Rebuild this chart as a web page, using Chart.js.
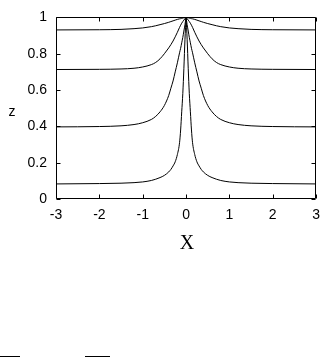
<!DOCTYPE html>
<html>
<head>
<meta charset="utf-8">
<script src="https://cdn.jsdelivr.net/npm/chart.js@4"></script>
<style>
html,body{margin:0;padding:0;background:#fff;}
#wrap{width:328px;height:358px;position:relative;}
canvas{display:block;}
</style>
</head>
<body>
<div id="wrap"><canvas id="c" width="328" height="358"></canvas></div>
<script>
// x positions (shared by all curves)
const xValues = [-3, -2, -1.5, -1.2, -1, -0.8, -0.7, -0.6, -0.5, -0.4, -0.35, -0.3, -0.25, -0.2, -0.15, -0.125, -0.1, -0.075, -0.05, -0.025, 0,
                 0.025, 0.05, 0.075, 0.1, 0.125, 0.15, 0.2, 0.25, 0.3, 0.35, 0.4, 0.5, 0.6, 0.7, 0.8, 1, 1.2, 1.5, 2, 3];
// z values, one array per curve
const curveTop = [0.931, 0.932, 0.934, 0.938, 0.942, 0.949, 0.954, 0.960, 0.966, 0.973, 0.977, 0.981, 0.985, 0.989, 0.992, 0.993, 0.995, 0.996, 0.998, 0.999, 1.0,
                  0.999, 0.998, 0.996, 0.995, 0.993, 0.992, 0.989, 0.985, 0.981, 0.977, 0.973, 0.966, 0.960, 0.954, 0.949, 0.942, 0.938, 0.934, 0.932, 0.931];
const curveSecond = [0.713, 0.714, 0.716, 0.720, 0.727, 0.740, 0.752, 0.772, 0.800, 0.832, 0.850, 0.870, 0.893, 0.918, 0.945, 0.957, 0.968, 0.977, 0.985, 0.993, 1.0,
                     0.993, 0.985, 0.977, 0.968, 0.957, 0.945, 0.918, 0.893, 0.870, 0.850, 0.832, 0.800, 0.772, 0.752, 0.740, 0.727, 0.720, 0.716, 0.714, 0.713];
const curveThird = [0.397, 0.399, 0.403, 0.410, 0.420, 0.438, 0.455, 0.480, 0.515, 0.570, 0.610, 0.650, 0.700, 0.750, 0.805, 0.830, 0.860, 0.890, 0.925, 0.960, 1.0,
                    0.960, 0.925, 0.890, 0.860, 0.830, 0.805, 0.750, 0.700, 0.650, 0.610, 0.570, 0.515, 0.480, 0.455, 0.438, 0.420, 0.410, 0.403, 0.399, 0.397];
const curveBottom = [0.083, 0.085, 0.087, 0.090, 0.094, 0.102, 0.109, 0.118, 0.130, 0.149, 0.163, 0.182, 0.205, 0.245, 0.310, 0.380, 0.480, 0.580, 0.720, 0.880, 1.0,
                     0.880, 0.720, 0.580, 0.480, 0.380, 0.310, 0.245, 0.205, 0.182, 0.163, 0.149, 0.130, 0.118, 0.109, 0.102, 0.094, 0.090, 0.087, 0.085, 0.083];
const xTicks = [-3, -2, -1, 0, 1, 2, 3];
const yTicks = [0, 0.2, 0.4, 0.6, 0.8, 1];
const xTitle = 'X';
const yTitle = 'z';

const curves = [curveTop, curveSecond, curveThird, curveBottom];
const mid = xValues.indexOf(0);
const datasets = [];
curves.forEach(function (ys) {
  // split at the cusp so each half is smoothed on its own
  [[0, mid + 1], [mid, xValues.length]].forEach(function (r) {
    const pts = [];
    for (let i = r[0]; i < r[1]; i++) pts.push({x: xValues[i], y: ys[i]});
    datasets.push({
      data: pts,
      borderColor: '#000',
      borderWidth: 1,
      pointRadius: 0,
      fill: false,
      cubicInterpolationMode: 'monotone'
    });
  });
});

const FONT = "'Liberation Sans', Arial, Helvetica, sans-serif";
const TICK_SIZE = 14;
Chart.defaults.font.family = FONT;
Chart.defaults.font.size = TICK_SIZE;
Chart.defaults.color = '#000';

const framePlugin = {
  id: 'frame',
  afterDraw(chart) {
    const ctx = chart.ctx;
    const a = chart.chartArea;
    const xs = chart.scales.x, ys = chart.scales.y;
    ctx.save();
    ctx.strokeStyle = '#000';
    ctx.lineWidth = 1;
    const L = Math.round(a.left) + 0.5, R = Math.round(a.right) - 0.5;
    const T = Math.round(a.top) + 0.5, B = Math.round(a.bottom) - 0.5;
    ctx.beginPath();
    ctx.rect(L, T, R - L, B - T);
    ctx.stroke();
    const tl = 4;
    ctx.beginPath();
    xTicks.forEach(function (v) {
      const px = Math.round(xs.getPixelForValue(v)) + 0.5;
      ctx.moveTo(px, B); ctx.lineTo(px, B - tl);
      ctx.moveTo(px, T); ctx.lineTo(px, T + tl);
    });
    yTicks.forEach(function (v) {
      const py = Math.round(ys.getPixelForValue(v)) + 0.5;
      ctx.moveTo(L, py); ctx.lineTo(L + tl, py);
      ctx.moveTo(R, py); ctx.lineTo(R - tl, py);
    });
    ctx.stroke();
    // axis titles
    ctx.fillStyle = '#000';
    ctx.textAlign = 'center';
    ctx.textBaseline = 'middle';
    ctx.font = '14px ' + FONT;
    ctx.fillText(yTitle, 12, ys.getPixelForValue(0.5) + 4);
    ctx.font = "20px 'Liberation Serif', 'Times New Roman', serif";
    ctx.fillText(xTitle, xs.getPixelForValue(0) + 1, a.bottom + 45);
    // overline marks of the cut-off caption
    ctx.beginPath();
    ctx.moveTo(0, 356.5); ctx.lineTo(20, 356.5);
    ctx.moveTo(85, 356.5); ctx.lineTo(110, 356.5);
    ctx.stroke();
    ctx.restore();
  }
};

new Chart(document.getElementById('c'), {
  type: 'line',
  data: {datasets: datasets},
  options: {
    responsive: false,
    devicePixelRatio: 1,
    animation: false,
    events: [],
    layout: {padding: {top: 6, right: 6, left: 0, bottom: 0}},
    plugins: {legend: {display: false}, tooltip: {enabled: false}},
    scales: {
      x: {
        type: 'linear', min: -3, max: 3,
        afterFit(s) { s.height = 159; },
        afterBuildTicks(s) { s.ticks = xTicks.map(v => ({value: v})); },
        grid: {display: false, drawTicks: false},
        border: {display: false},
        ticks: {color: '#000', padding: 8, maxRotation: 0, font: {family: FONT, size: TICK_SIZE},
                callback: v => String(v)}
      },
      y: {
        type: 'linear', min: 0, max: 1,
        afterFit(s) { s.width = 56; },
        afterBuildTicks(s) { s.ticks = yTicks.map(v => ({value: v})); },
        grid: {display: false, drawTicks: false},
        border: {display: false},
        ticks: {color: '#000', padding: 9, font: {family: FONT, size: TICK_SIZE},
                callback: v => String(Math.round(v * 10) / 10)}
      }
    }
  },
  plugins: [framePlugin]
});
</script>
</body>
</html>
